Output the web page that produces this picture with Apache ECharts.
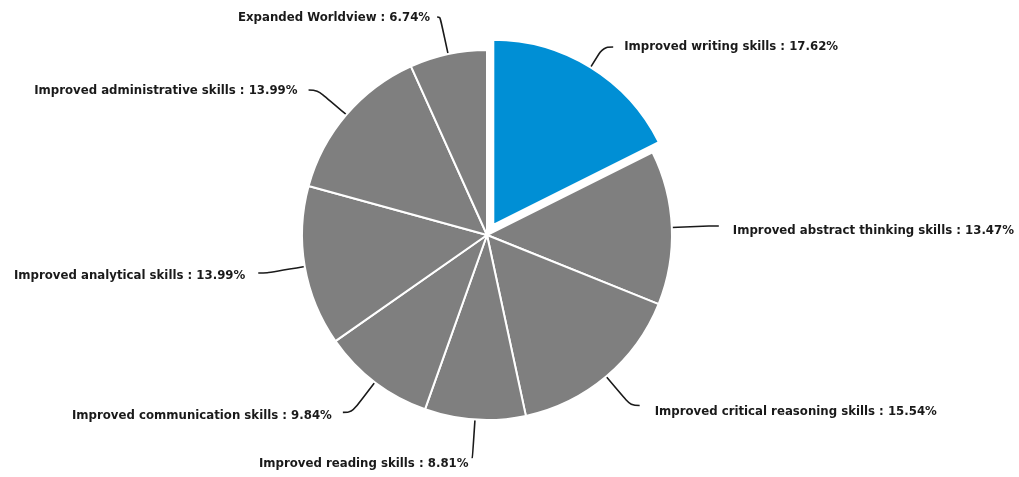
<!DOCTYPE html>
<html>
<head>
<meta charset="utf-8">
<script src="https://cdn.jsdelivr.net/npm/echarts@6/dist/echarts.min.js"></script>
<style>
  html, body { margin: 0; padding: 0; background: #fff; }
  #chart { width: 1019px; height: 477px; }
</style>
</head>
<body>
<div id="chart"></div>
<script>
// Reported benefits, share of responses (%)
const categories = [
  'Improved writing skills',
  'Improved abstract thinking skills',
  'Improved critical reasoning skills',
  'Improved reading skills',
  'Improved communication skills',
  'Improved analytical skills',
  'Improved administrative skills',
  'Expanded Worldview'
];
const shares = [17.62, 13.47, 15.54, 8.81, 9.84, 13.99, 13.99, 6.74];
const highlighted = 'Improved writing skills';

const BLUE = '#008fd5';
const GREY = '#7f7f7f';

// Leader-line tweaks for individual slices
const lineTweaks = {
  'Improved writing skills': { length: 24, length2: 10 },
  'Improved reading skills': { length2: 1 },
  'Expanded Worldview': { length2: 3 }
};
const labelTweaks = {
  'Improved reading skills': { distanceToLabelLine: 3 },
  'Expanded Worldview': { distanceToLabelLine: 7 }
};
// Small label nudges [dx, dy] so text sits just under its leader end
const labelNudges = {
  'Improved abstract thinking skills': [3, 5],
  'Improved critical reasoning skills': [4, 6],
  'Improved reading skills': [0, 6],
  'Improved communication skills': [0, 4],
  'Improved analytical skills': [-2, 3],
  'Improved administrative skills': [0, 1],
  'Expanded Worldview': [0, 1]
};

const chart = echarts.init(document.getElementById('chart'));

const data = categories.map((name, i) => {
  const item = {
    name,
    value: shares[i],
    selected: name === highlighted,
    itemStyle: { color: name === highlighted ? BLUE : GREY }
  };
  if (lineTweaks[name]) item.labelLine = lineTweaks[name];
  if (labelTweaks[name]) item.label = labelTweaks[name];
  return item;
});

chart.setOption({
  animation: false,
  series: [{
    type: 'pie',
    center: [487, 235],
    radius: [0, 185],
    startAngle: 90,
    clockwise: true,
    selectedMode: 'single',
    selectedOffset: 12,
    avoidLabelOverlap: true,
    itemStyle: { borderColor: '#ffffff', borderWidth: 2 },
    select: { itemStyle: { color: BLUE } },
    emphasis: { disabled: true },
    label: {
      show: true,
      formatter: p => p.name + ' : ' + p.value.toFixed(2) + '%',
      fontFamily: '"DejaVu Sans", Arial, sans-serif',
      fontWeight: 'bold',
      fontSize: 11.75,
      color: '#1a1a1a',
      overflow: 'none',
      distanceToLabelLine: 11
    },
    labelLine: {
      show: true,
      length: 38,
      length2: 9,
      smooth: 0.4,
      lineStyle: { color: '#1a1a1a', width: 1.6 }
    },
    labelLayout: params => {
      const n = labelNudges[categories[params.dataIndex]];
      if (!n) return {};
      return {
        dx: n[0],
        dy: n[1],
        labelLinePoints: params.labelLinePoints
      };
    },
    data
  }]
});
</script>
</body>
</html>
